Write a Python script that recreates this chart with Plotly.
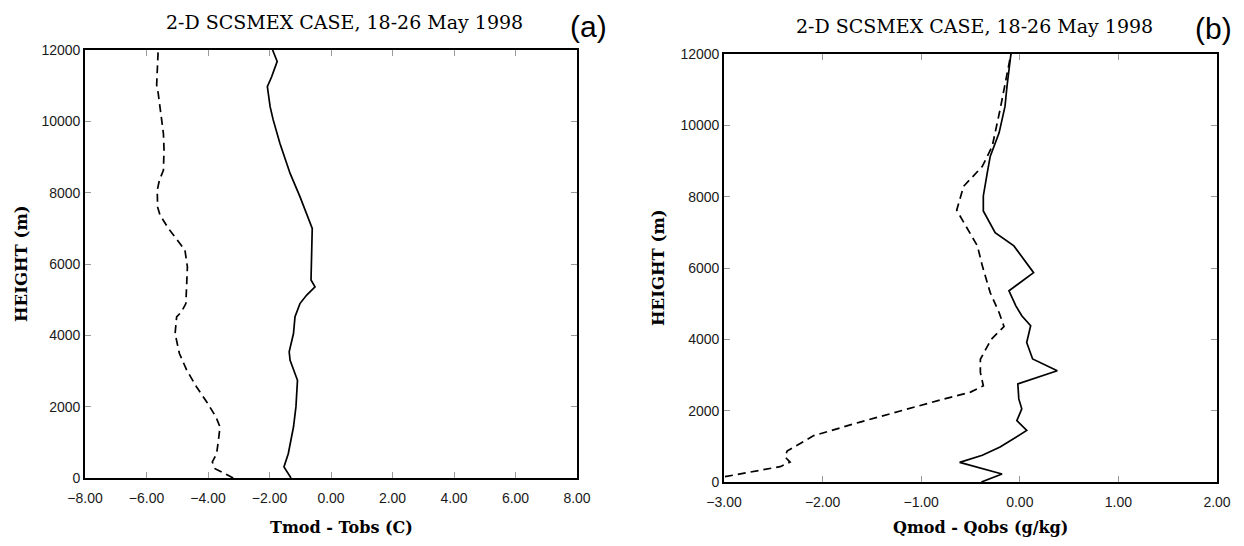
import plotly.graph_objects as go

# page has an 8px body margin: the figure is placed at (8, 8)
OFF = 8
W, H = 1244 - OFF, 546 - OFF

# ---------------- Panel (a): Tmod - Tobs (C) ----------------
height_a_solid = [0, 310, 680, 1430, 2000, 2740, 3300, 3540, 4050, 4520, 4890, 5130,
                  5360, 5550, 7000, 7890, 8540, 9380, 10040, 10410, 10970, 11250, 11680, 12000]
tdiff_a_solid = [-1.30, -1.53, -1.39, -1.22, -1.14, -1.09, -1.33, -1.36, -1.22, -1.17, -1.01, -0.79,
                 -0.52, -0.65, -0.61, -1.01, -1.33, -1.66, -1.88, -1.98, -2.07, -1.93, -1.75, -1.90]

height_a_dash = [0, 140, 260, 450, 680, 1060, 1430, 1710, 2130, 2550, 3020, 3490, 4050, 4520,
                 4660, 4890, 5360, 5920, 6390, 6670, 7000, 7370, 7600, 8070, 8350, 8630, 9200,
                 9660, 10230, 10790, 11020, 11530, 12000]
tdiff_a_dash = [-3.18, -3.50, -3.77, -3.86, -3.72, -3.66, -3.61, -3.74, -4.04, -4.37, -4.69, -4.93,
                -5.07, -5.02, -4.86, -4.72, -4.69, -4.67, -4.75, -4.99, -5.29, -5.56, -5.64, -5.65,
                -5.58, -5.45, -5.43, -5.45, -5.53, -5.62, -5.67, -5.64, -5.62]

# ---------------- Panel (b): Qmod - Qobs (g/kg) ----------------
height_b_solid = [0, 225, 550, 750, 980, 1210, 1445, 1720, 2050, 2330, 2750, 3120, 3450, 3910,
                  4380, 4660, 4940, 5360, 5870, 6620, 6990, 7600, 8020, 8670, 9130, 9790, 10530,
                  11090, 12000]
qdiff_b_solid = [-0.39, -0.18, -0.61, -0.38, -0.20, -0.06, 0.07, -0.03, 0.02, -0.01, -0.02, 0.38,
                 0.13, 0.07, 0.11, 0.02, -0.04, -0.11, 0.14, -0.06, -0.25, -0.37, -0.37, -0.33,
                 -0.30, -0.21, -0.15, -0.13, -0.09]

height_b_dash = [150, 430, 560, 700, 870, 1300, 1680, 2000, 2320, 2520, 2700, 3070, 3440, 4000,
                 4360, 4750, 5310, 6060, 6620, 7620, 8290, 8850, 9410, 10440, 11370, 12000]
qdiff_b_dash = [-2.99, -2.43, -2.33, -2.38, -2.36, -2.09, -1.62, -1.21, -0.78, -0.50, -0.37, -0.40,
                -0.40, -0.29, -0.16, -0.21, -0.30, -0.38, -0.43, -0.64, -0.57, -0.38, -0.28, -0.20,
                -0.13, -0.09]

x_ticks_a = [-8, -6, -4, -2, 0, 2, 4, 6, 8]
x_ticks_b = [-3, -2, -1, 0, 1, 2]
y_ticks = [0, 2000, 4000, 6000, 8000, 10000, 12000]

title_text = "2-D SCSMEX CASE, 18-26 May 1998"
xtitle_a = "Tmod - Tobs (C)"
xtitle_b = "Qmod - Qobs (g/kg)"
ytitle = "HEIGHT (m)"

# ---------------- figure ----------------
fig = go.Figure()
line_w = 1.7
fig.add_trace(go.Scatter(x=tdiff_a_solid, y=height_a_solid, mode="lines",
                         line=dict(color="black", width=line_w), xaxis="x", yaxis="y"))
fig.add_trace(go.Scatter(x=tdiff_a_dash, y=height_a_dash, mode="lines",
                         line=dict(color="black", width=line_w, dash="8px,5px"), xaxis="x", yaxis="y"))
fig.add_trace(go.Scatter(x=qdiff_b_solid, y=height_b_solid, mode="lines",
                         line=dict(color="black", width=line_w), xaxis="x2", yaxis="y2"))
fig.add_trace(go.Scatter(x=qdiff_b_dash, y=height_b_dash, mode="lines",
                         line=dict(color="black", width=line_w, dash="8px,5px"), xaxis="x2", yaxis="y2"))

def px_x(p):
    return (p - OFF) / W

def px_y(p):
    return 1 - (p - OFF) / H

tickfont = dict(family="Liberation Sans, Arial, sans-serif", size=14, color="#1a1a1a")
common_x = dict(showgrid=False, zeroline=False, ticks="inside", ticklen=6, tickwidth=1,
                tickcolor="#9a9a9a", showline=True, linecolor="black", linewidth=1.6,
                mirror="allticks", tickformat=".2f", tickfont=tickfont, automargin=False,
                ticklabelstandoff=6)
common_y = dict(showgrid=False, zeroline=False, ticks="inside", ticklen=6, tickwidth=1,
                tickcolor="#9a9a9a", showline=True, linecolor="black", linewidth=1.6,
                mirror="allticks", tickformat="d", tickfont=tickfont, range=[0, 12000],
                tickvals=y_ticks, automargin=False)

fig.update_layout(
    width=W, height=H, margin=dict(l=0, r=0, t=0, b=0, autoexpand=False),
    paper_bgcolor="white", plot_bgcolor="white", showlegend=False,
    xaxis=dict(domain=[px_x(85), px_x(577)], range=[-8, 8], tickvals=x_ticks_a,
               anchor="y", **common_x),
    yaxis=dict(domain=[px_y(478), px_y(50)], anchor="x", **common_y),
    xaxis2=dict(domain=[px_x(724), px_x(1217)], range=[-3, 2], tickvals=x_ticks_b,
                anchor="y2", **common_x),
    yaxis2=dict(domain=[px_y(482), px_y(54)], anchor="x2", **common_y),
)

serif = "DejaVu Serif, serif"
anns = [
    dict(text=title_text, x=px_x(344), y=px_y(22), font=dict(family=serif, size=19, color="black")),
    dict(text=title_text, x=px_x(974), y=px_y(26), font=dict(family=serif, size=19, color="black")),
    dict(text="(a)", x=px_x(588), y=px_y(27), font=dict(family="Liberation Sans, Arial", size=30, color="black")),
    dict(text="(b)", x=px_x(1213), y=px_y(29), font=dict(family="Liberation Sans, Arial", size=30, color="black")),
    dict(text="<b>" + xtitle_a + "</b>", x=px_x(341), y=px_y(527), font=dict(family=serif, size=16, color="black")),
    dict(text="<b>" + xtitle_b + "</b>", x=px_x(980), y=px_y(527), font=dict(family=serif, size=16, color="black")),
    dict(text="<b>" + ytitle + "</b>", x=px_x(21), y=px_y(264), textangle=-90,
         font=dict(family=serif, size=16.5, color="black")),
    dict(text="<b>" + ytitle + "</b>", x=px_x(658), y=px_y(268), textangle=-90,
         font=dict(family=serif, size=16.5, color="black")),
]
for a in anns:
    a.update(xref="paper", yref="paper", showarrow=False, xanchor="center", yanchor="middle")
fig.update_layout(annotations=anns)

fig.write_html("out.html")
